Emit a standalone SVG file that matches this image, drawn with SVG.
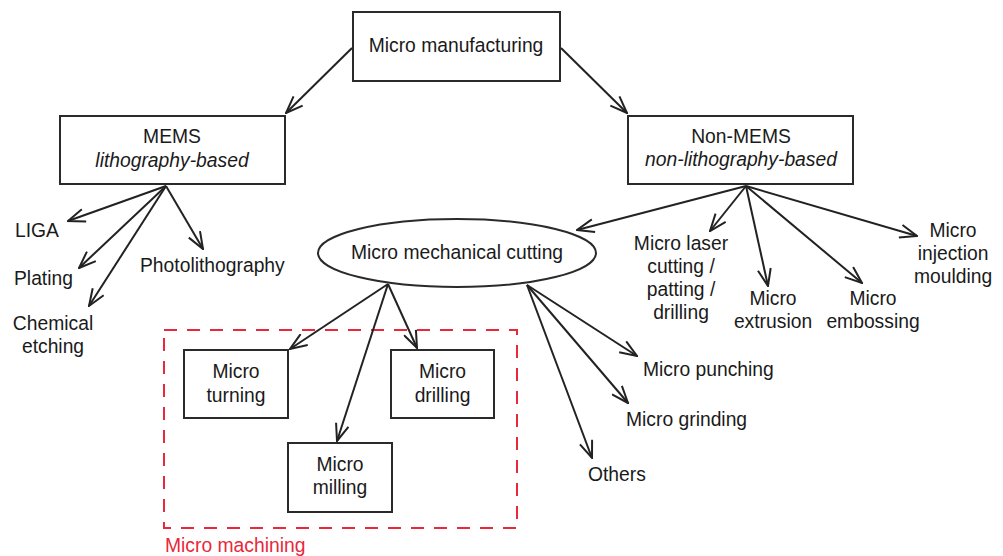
<svg xmlns="http://www.w3.org/2000/svg" width="1003" height="556" viewBox="0 0 1003 556">
<defs>
<marker id="arr" viewBox="0 0 19 15" refX="18" refY="7.5" markerWidth="19" markerHeight="15" markerUnits="userSpaceOnUse" orient="auto">
<path d="M1,1 L18,7.5 L1,14" fill="none" stroke="#222" stroke-width="2"/>
</marker>
<style>
text{font-family:"Liberation Sans",Arial,sans-serif;font-size:19.3px;fill:#1a1a1a}
.m{text-anchor:middle}
.i{font-style:italic}
.box{fill:#fff;stroke:#2a2a2a;stroke-width:2}
.c line{stroke:#222;stroke-width:2;marker-end:url(#arr)}
</style>
</defs>
<rect width="1003" height="556" fill="#fff"/>
<g id="micro-machining-group">
<rect x="164" y="330" width="353" height="198" fill="none" stroke="#e8283c" stroke-width="2" stroke-dasharray="13 10"/>
<text x="165" y="552" style="fill:#e8283c">Micro machining</text>
</g>
<g class="c" id="connectors">
<line x1="352" y1="48" x2="286" y2="113"/>
<line x1="561" y1="48" x2="627" y2="113"/>
<line x1="166" y1="186" x2="68" y2="221"/>
<line x1="166" y1="186" x2="79" y2="268"/>
<line x1="166" y1="186" x2="89" y2="306"/>
<line x1="166" y1="186" x2="203" y2="249"/>
<line x1="746" y1="186" x2="577" y2="230"/>
<line x1="746" y1="186" x2="710" y2="231"/>
<line x1="746" y1="186" x2="768" y2="286"/>
<line x1="746" y1="186" x2="862" y2="283"/>
<line x1="746" y1="186" x2="917" y2="236"/>
<line x1="388" y1="284" x2="290" y2="349"/>
<line x1="388" y1="284" x2="417" y2="348"/>
<line x1="388" y1="284" x2="337" y2="441"/>
<line x1="527" y1="285" x2="637" y2="356"/>
<line x1="527" y1="285" x2="628" y2="403"/>
<line x1="527" y1="285" x2="592" y2="458"/>
</g>
<g id="micro-manufacturing">
<rect class="box" x="353" y="12" width="207" height="69"/>
<text class="m" x="456" y="52">Micro manufacturing</text>
</g>
<g id="mems">
<rect class="box" x="60" y="116" width="225" height="68"/>
<text class="m" x="172" y="143">MEMS</text>
<text class="m i" x="172" y="167">lithography-based</text>
</g>
<g id="non-mems">
<rect class="box" x="628" y="116" width="225" height="68"/>
<text class="m" x="741" y="143">Non-MEMS</text>
<text class="m i" x="741" y="166">non-lithography-based</text>
</g>
<g id="liga"><text x="15" y="237">LIGA</text></g>
<g id="plating"><text x="14" y="285">Plating</text></g>
<g id="chemical-etching"><text class="m" x="53" y="330">Chemical</text><text class="m" x="53" y="353">etching</text></g>
<g id="photolithography"><text x="140" y="272">Photolithography</text></g>
<g id="micro-mechanical-cutting">
<ellipse cx="457" cy="253" rx="139" ry="34" fill="#fff" stroke="#2a2a2a" stroke-width="2"/>
<text class="m" x="457" y="259">Micro mechanical cutting</text>
</g>
<g id="micro-laser">
<text class="m" x="681" y="250">Micro laser</text>
<text class="m" x="681" y="273">cutting /</text>
<text class="m" x="681" y="296">patting /</text>
<text class="m" x="681" y="319">drilling</text>
</g>
<g id="micro-extrusion"><text class="m" x="773" y="305">Micro</text><text class="m" x="773" y="328">extrusion</text></g>
<g id="micro-embossing"><text class="m" x="873" y="305">Micro</text><text class="m" x="873" y="328">embossing</text></g>
<g id="micro-injection"><text class="m" x="953" y="237">Micro</text><text class="m" x="953" y="260">injection</text><text class="m" x="953" y="283">moulding</text></g>
<g id="micro-turning">
<rect class="box" x="184" y="350" width="104" height="68"/>
<text class="m" x="236" y="378">Micro</text><text class="m" x="236" y="402">turning</text>
</g>
<g id="micro-drilling">
<rect class="box" x="391" y="350" width="103" height="68"/>
<text class="m" x="442.5" y="378">Micro</text><text class="m" x="442.5" y="402">drilling</text>
</g>
<g id="micro-milling">
<rect class="box" x="288" y="443" width="104" height="69"/>
<text class="m" x="340" y="471">Micro</text><text class="m" x="340" y="494">milling</text>
</g>
<g id="micro-punching"><text x="643" y="376">Micro punching</text></g>
<g id="micro-grinding"><text x="626" y="426">Micro grinding</text></g>
<g id="others"><text x="588" y="481">Others</text></g>
</svg>
